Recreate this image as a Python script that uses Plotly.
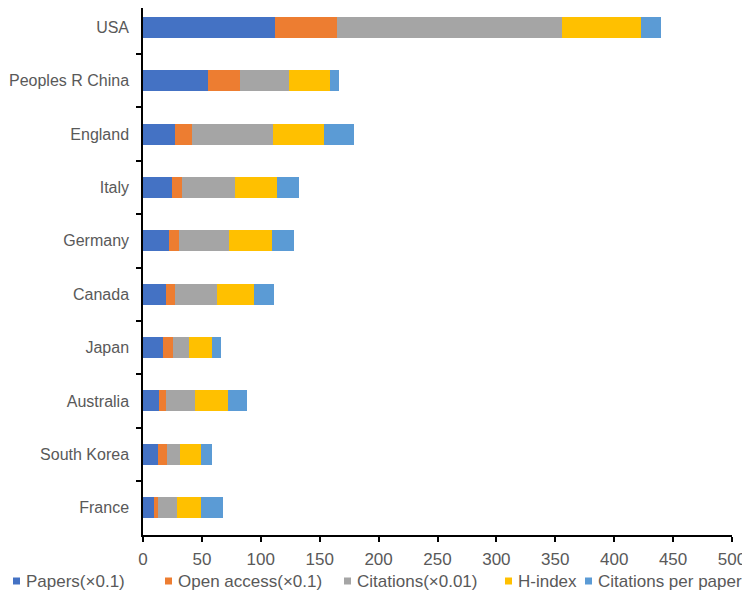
import plotly.graph_objects as go

countries = ["USA", "Peoples R China", "England", "Italy", "Germany",
             "Canada", "Japan", "Australia", "South Korea", "France"]

papers = [112, 55, 27, 24.6, 22, 19.5, 17.3, 14, 12.7, 9.3]
open_access = [53, 27.5, 15, 8.8, 8.2, 7.4, 7.9, 5.7, 7.7, 3.1]
citations = [191, 41.5, 68, 44.7, 42.7, 35.7, 14.1, 24.3, 11.3, 16.6]
h_index = [67, 34.5, 44, 35.9, 36.2, 31.2, 19.6, 28.3, 17.9, 20.6]
cites_per_paper = [17, 7.5, 25, 18.4, 19, 17.7, 7.3, 16.2, 8.8, 17.9]

names = ["Papers(\u00d70.1)", "Open access(\u00d70.1)", "Citations(\u00d70.01)",
         "H-index", "Citations per paper"]
colors = ["#4472C4", "#ED7D31", "#A5A5A5", "#FFC000", "#5B9BD5"]
values = [papers, open_access, citations, h_index, cites_per_paper]

# page geometry (pixels inside the figure); sized so the page needs no scrollbars
W, H = 742, 582
L, R, T, B = 135, 18, 0, 55
PW, PH = W - L - R, H - T - B

def px_x(fx):
    return (fx - L) / PW

def px_y(fy):
    return (H - B - fy) / PH

fig = go.Figure()
for name, vals, color in zip(names, values, colors):
    fig.add_trace(go.Bar(y=countries, x=vals, name=name, orientation="h",
                         marker=dict(color=color, line=dict(width=0))))

# legend drawn at the bottom like the original (square + label)
legend_left = [5, 157, 336, 497, 577]
leg_y = 573
shapes, annotations = [], []
for lx, name, color in zip(legend_left, names, colors):
    shapes.append(dict(type="rect", xref="paper", yref="paper",
                       x0=px_x(lx), x1=px_x(lx + 7),
                       y0=px_y(leg_y - 3.5), y1=px_y(leg_y + 3.5),
                       fillcolor=color, line=dict(width=0)))
    annotations.append(dict(text=name, xref="paper", yref="paper",
                            x=px_x(lx + 11), y=px_y(leg_y),
                            xanchor="left", yanchor="middle", showarrow=False,
                            font=dict(size=17, color="#595959")))

fig.update_layout(
    barmode="stack",
    bargap=0.607,
    width=W, height=H,
    margin=dict(l=L, r=R, t=T, b=B, autoexpand=False),
    plot_bgcolor="white", paper_bgcolor="white",
    font=dict(family="Liberation Sans, Arial", size=17, color="#595959"),
    showlegend=False,
    shapes=shapes,
    annotations=annotations,
)
fig.update_xaxes(range=[0, 500], dtick=50, showgrid=False, zeroline=False,
                 showline=True, linecolor="black", linewidth=1.5,
                 ticks="outside", ticklen=5, tickcolor="black", tickwidth=1.5,
                 ticklabelstandoff=3, tickfont=dict(size=17))
fig.update_yaxes(range=[9.51, -0.36], autorange=False, showgrid=False,
                 showline=True, linecolor="black", linewidth=1.5,
                 ticks="outside", ticklen=5, tickcolor="black", tickwidth=1.5,
                 tickson="boundaries", ticklabelstandoff=9,
                 tickfont=dict(size=16))

fig.write_html("out.html")
